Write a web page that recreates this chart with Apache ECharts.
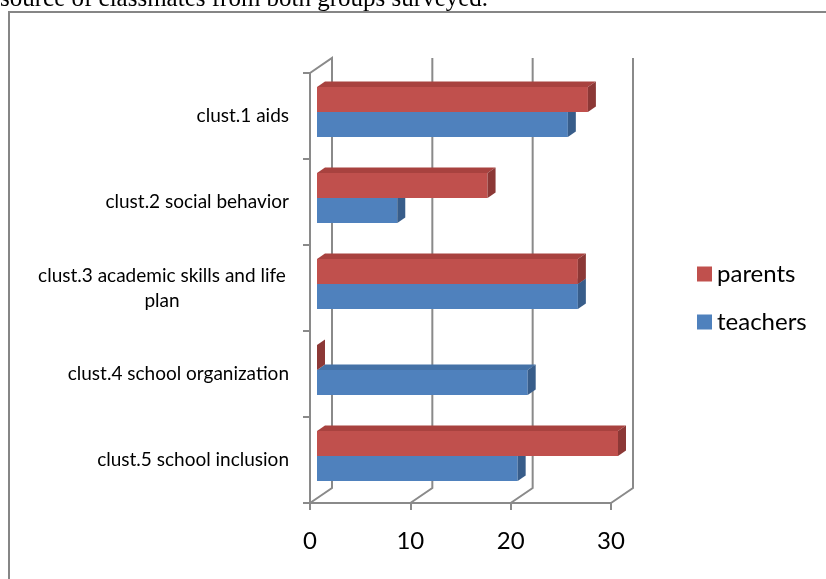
<!DOCTYPE html>
<html>
<head>
<meta charset="utf-8">
<script src="https://cdn.jsdelivr.net/npm/echarts@6/dist/echarts.min.js"></script>
<style>
html, body { margin: 0; padding: 0; background: #fff; }
#chart { width: 826px; height: 579px; }
</style>
</head>
<body>
<div id="chart"></div>
<script>
// categories (top to bottom)
const categories = [
  "clust.1 aids",
  "clust.2 social behavior",
  "clust.3 academic skills and life\nplan",
  "clust.4 school organization",
  "clust.5 school inclusion"
];
const parents = [27, 17, 26, 0, 30];
const teachers = [25, 8, 26, 21, 20];
const xTicks = [0, 10, 20, 30];

const wallColor = "#8a8a8a";
// depth of the floor and of the bars (3D look)
const floorDx = 22, floorDy = 15;
const barDx = 8, barDy = 5.5;

const myChart = echarts.init(document.getElementById("chart"));

// draws one 3D-looking bar (front, top and right faces)
const bar3d = (slot, colors) => (params, api) => {
  const v = api.value(0);
  const idx = api.value(1);
  const p0 = api.coord([0, idx]);
  const p1 = api.coord([v, idx]);
  const band = api.size([0, 1])[1];
  const bh = band * 0.29;
  const x0 = p0[0] + 7;
  const x1 = p1[0] + 7;
  const top = p0[1] - band * 0.337 + slot * bh;
  const bot = top + bh;
  return {
    type: "group",
    children: [
      {
        type: "polygon",
        shape: { points: [[x0, top], [x1, top], [x1 + barDx, top - barDy], [x0 + barDx, top - barDy]] },
        style: { fill: colors[1] }
      },
      {
        type: "rect",
        shape: { x: x0, y: top, width: x1 - x0, height: bh },
        style: { fill: colors[0] }
      },
      {
        type: "polygon",
        shape: { points: [[x1, top], [x1 + barDx, top - barDy], [x1 + barDx, bot - barDy], [x1, bot]] },
        style: { fill: colors[2] }
      }
    ]
  };
};

let option = {
  animation: false,
  graphic: [
    {
      type: "text",
      left: 0,
      top: -13,
      style: {
        text: "source of classmates from both groups surveyed.",
        font: '25px "Liberation Serif"',
        fill: "#000"
      }
    },
    {
      type: "rect",
      shape: { x: 9, y: 12, width: 900, height: 700 },
      style: { fill: null, stroke: "#868686", lineWidth: 2 },
      z: -10
    }
  ],
  legend: {
    data: ["parents", "teachers"],
    orient: "vertical",
    left: 697,
    top: 262,
    padding: 0,
    icon: "rect",
    itemWidth: 15,
    itemHeight: 15,
    itemGap: 24,
    textStyle: { fontFamily: "Lato", fontSize: 24, color: "#000" }
  },
  grid: {
    left: 310,
    right: 215,
    top: 73,
    bottom: 76
  },
  xAxis: {
    type: "value",
    min: 0,
    max: 30,
    interval: 10,
    axisLine: { show: true, lineStyle: { color: wallColor, width: 2 } },
    axisTick: { show: true, length: 7, lineStyle: { color: wallColor, width: 2 } },
    splitLine: { show: false },
    axisLabel: { fontFamily: "Lato", fontSize: 24, color: "#000", margin: 26 }
  },
  yAxis: {
    type: "category",
    inverse: true,
    data: categories,
    axisLine: { show: true, lineStyle: { color: wallColor, width: 2 } },
    axisTick: { show: true, length: 7, lineStyle: { color: wallColor, width: 2 } },
    axisLabel: {
      fontFamily: "Lato",
      fontSize: 19,
      color: "#000",
      margin: 21,
      formatter: (v) => {
        if (v.indexOf("\n") < 0) return v;
        return v.split("\n").map((s) => "{c|" + s + "}").join("\n");
      },
      rich: {
        c: { fontFamily: "Lato", fontSize: 19, color: "#000", width: 254, align: "center", lineHeight: 25 }
      }
    }
  },
  series: [
    {
      // back wall gridlines + floor
      type: "custom",
      name: "wall",
      silent: true,
      z: 1,
      data: xTicks.map((t) => [t, 0]),
      encode: { x: 0, y: 1 },
      renderItem: (params, api) => {
        const cs = params.coordSys;
        const x = api.coord([api.value(0), 0])[0];
        const yb = cs.y + cs.height;
        const pts = [[x, yb], [x + floorDx, yb - floorDy], [x + floorDx, cs.y - floorDy]];
        if (params.dataIndex === 0) pts.push([x, cs.y]);
        return {
          type: "polyline",
          shape: { points: pts },
          style: { stroke: wallColor, lineWidth: 2, fill: null }
        };
      }
    },
    {
      type: "custom",
      name: "teachers",
      z: 2,
      itemStyle: { color: "#4F81BD" },
      data: teachers.map((v, i) => [v, i]),
      encode: { x: 0, y: 1 },
      renderItem: bar3d(1, ["#4F81BD", "#4572A7", "#385D8A"])
    },
    {
      type: "custom",
      name: "parents",
      z: 3,
      itemStyle: { color: "#C0504D" },
      data: parents.map((v, i) => [v, i]),
      encode: { x: 0, y: 1 },
      renderItem: bar3d(0, ["#C0504D", "#A8423F", "#8C3836"])
    }
  ]
};
myChart.setOption(option);
</script>
</body>
</html>
